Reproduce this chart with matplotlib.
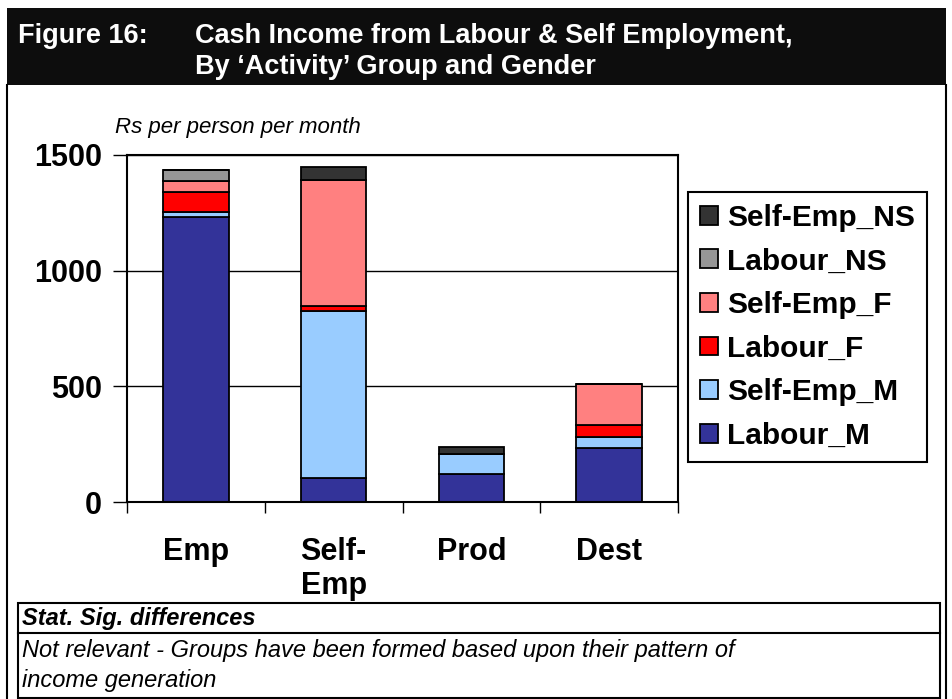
import matplotlib.pyplot as plt
from matplotlib.patches import Rectangle
from matplotlib.lines import Line2D

plt.rcParams['font.family'] = ['Liberation Sans', 'DejaVu Sans']

groups = ['Emp', 'Self-\nEmp', 'Prod', 'Dest']
series = ['Labour_M', 'Self-Emp_M', 'Labour_F', 'Self-Emp_F', 'Labour_NS', 'Self-Emp_NS']
labour_m = [1231, 105, 123, 233]
self_emp_m = [21, 719, 84, 49]
labour_f = [89, 24, 0, 53]
self_emp_f = [46, 543, 0, 174]
labour_ns = [50, 3, 0, 0]
self_emp_ns = [0, 55, 29, 0]
colors = ['#333399', '#99CCFF', '#FF0000', '#FF8080', '#969696', '#333333']
yticks = [0, 500, 1000, 1500]

W, H = 952, 699


def fx(x):
    return x / W


def fy(y):
    return 1 - y / H


fig = plt.figure(figsize=(W / 100, H / 100), dpi=100)

# title bar and page frame
fig.add_artist(Rectangle((fx(7), fy(85)), fx(946) - fx(7), fy(8) - fy(85),
                         transform=fig.transFigure, facecolor='#0d0d0d', edgecolor='none'))
for x in (7, 946):
    fig.add_artist(Line2D([fx(x), fx(x)], [fy(85), fy(699)], transform=fig.transFigure,
                          color='black', lw=1.5))
fig.text(fx(18), fy(36), 'Figure 16:', color='white', fontsize=19.5, fontweight='bold', va='center')
fig.text(fx(195), fy(36), 'Cash Income from Labour & Self Employment,', color='white',
         fontsize=19.5, fontweight='bold', va='center')
fig.text(fx(195), fy(67), 'By \u2018Activity\u2019 Group and Gender', color='white',
         fontsize=19.5, fontweight='bold', va='center')

fig.text(fx(115), fy(128), 'Rs per person per month', fontsize=16, style='italic', va='center')

ax = fig.add_axes([fx(127), fy(502), fx(678) - fx(127), fy(155) - fy(502)])
data = [labour_m, self_emp_m, labour_f, self_emp_f, labour_ns, self_emp_ns]
x = range(len(groups))
bottom = [0] * len(groups)
handles = []
for name, vals, c in zip(series, data, colors):
    b = ax.bar(x, vals, 0.476, bottom=bottom, color=c, edgecolor='black', linewidth=1.3, label=name)
    handles.append(b)
    bottom = [bo + v for bo, v in zip(bottom, vals)]

ax.set_xlim(-0.5, 3.5)
ax.set_ylim(0, 1500)
ax.set_yticks(yticks)
ax.set_yticklabels([str(t) for t in yticks], fontsize=22, fontweight='bold')
ax.tick_params(axis='y', length=10, width=1, pad=8)
ax.set_xticks(list(x))
ax.set_xticklabels(groups, fontsize=22, fontweight='bold', linespacing=1.2)
ax.tick_params(axis='x', which='major', length=0, pad=25)
ax.set_xticks([-0.5, 0.5, 1.5, 2.5, 3.5], minor=True)
ax.tick_params(axis='x', which='minor', length=8, width=1)
for t in ax.get_xticklabels():
    t.set_verticalalignment('top')
ax.yaxis.grid(True, color='black', linewidth=1)
ax.set_axisbelow(True)
for s in ax.spines.values():
    s.set_linewidth(1.5)

leg = fig.legend(handles[::-1], series[::-1], loc='upper left', bbox_to_anchor=(fx(688), fy(192)),
                 borderaxespad=0, fancybox=False, edgecolor='black', framealpha=1,
                 prop={'size': 21.5, 'weight': 'bold'}, handlelength=0.6, handleheight=0.6,
                 handletextpad=0.3, labelspacing=0.52, borderpad=0.4)
leg.get_frame().set_linewidth(1.5)

# stat sig box
fig.add_artist(Rectangle((fx(18), fy(698)), fx(940) - fx(18), fy(603) - fy(698),
                         transform=fig.transFigure, facecolor='none', edgecolor='black', lw=1.5))
fig.add_artist(Line2D([fx(18), fx(940)], [fy(633), fy(633)], transform=fig.transFigure,
                      color='black', lw=1.5))
fig.text(fx(22), fy(619), 'Stat. Sig. differences', fontsize=17, fontweight='bold',
         style='italic', va='center')
fig.text(fx(22), fy(651), 'Not relevant - Groups have been formed based upon their pattern of',
         fontsize=17, style='italic', va='center')
fig.text(fx(22), fy(680), 'income generation', fontsize=17, style='italic', va='center')

fig.savefig('out.png', dpi=100)
